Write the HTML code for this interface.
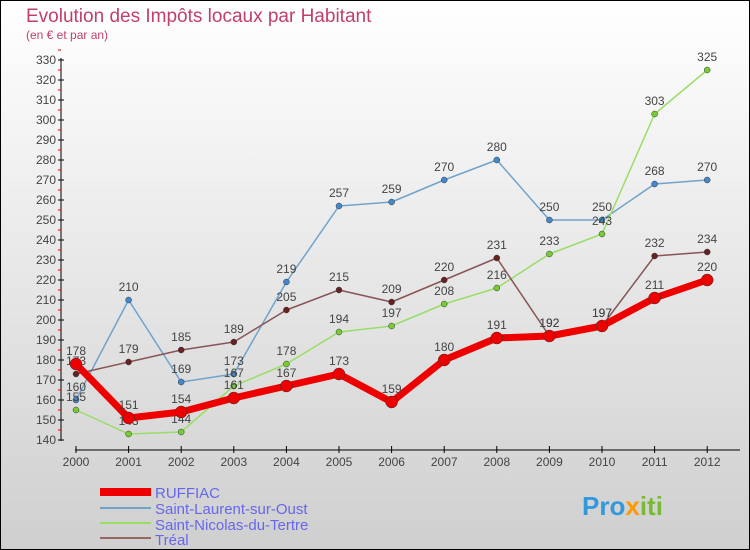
<!DOCTYPE html>
<html><head><meta charset="utf-8"><style>
body{margin:0}
#c{width:750px;height:550px;position:relative;overflow:hidden;font-family:"Liberation Sans","DejaVu Sans",sans-serif}
</style></head><body>
<div id="c">
<svg id="s" width="750" height="550" xmlns="http://www.w3.org/2000/svg">
<defs><linearGradient id="bg" x1="0" y1="0" x2="0" y2="1"><stop offset="0" stop-color="#ffffff"/><stop offset="1" stop-color="#cfcfcf"/></linearGradient></defs>
<rect x="0.5" y="0.5" width="749" height="549" fill="url(#bg)" stroke="#000"/>
<text x="26" y="22" font-size="19" fill="#c0406a">Evolution des Impôts locaux par Habitant</text>
<text x="26" y="39" font-size="12" fill="#c0406a">(en € et par an)</text>
<g id="axes"></g><g id="series"></g>
<g>
<rect x="100" y="488" width="51" height="8" fill="#e00"/>
<text x="155" y="498" font-size="15" fill="#6666ee">RUFFIAC</text>
<line x1="100" y1="508" x2="151" y2="508" stroke="#6fa3cc" stroke-width="2"/>
<text x="155" y="514" font-size="15" fill="#6666ee">Saint-Laurent-sur-Oust</text>
<line x1="100" y1="523" x2="151" y2="523" stroke="#99dd66" stroke-width="2"/>
<text x="155" y="530" font-size="15" fill="#6666ee">Saint-Nicolas-du-Tertre</text>
<line x1="100" y1="538" x2="151" y2="538" stroke="#996666" stroke-width="2"/>
<text x="155" y="545" font-size="15" fill="#6666ee">Tréal</text>
</g>
<text x="582" y="515" font-size="26" font-weight="bold" fill="#3399dd">Pro<tspan fill="#ff9900">x</tspan><tspan fill="#77bb33">iti</tspan></text>
</svg>
</div>
<script>
const years=[2000,2001,2002,2003,2004,2005,2006,2007,2008,2009,2010,2011,2012];
const yTicks=[140,150,160,170,180,190,200,210,220,230,240,250,260,270,280,290,300,310,320,330];
const ruffiac=[178,151,154,161,167,173,159,180,191,192,197,211,220];
const laurent=[160,210,169,173,219,257,259,270,280,250,250,268,270];
const nicolas=[155,143,144,167,178,194,197,208,216,233,243,303,325];
const treal=[173,179,185,189,205,215,209,220,231,192,197,232,234];
const NS="http://www.w3.org/2000/svg";
function X(i){return 76+i*52.6;}
function Y(v){return 440-(v-140)*2;}
function mk(t,a,p){const e=document.createElementNS(NS,t);for(const k in a)e.setAttribute(k,a[k]);p.appendChild(e);return e;}
const ax=document.getElementById('axes');
let yl=mk('line',{x1:61,y1:58,x2:61,y2:441,stroke:'#000'},ax);


yTicks.forEach(v=>{
 mk('line',{x1:58,y1:Y(v),x2:64,y2:Y(v),stroke:'#000'},ax);
 mk('line',{x1:58,y1:Y(v)-10,x2:61,y2:Y(v)-10,stroke:'#e00'},ax);
 const t=mk('text',{x:56,y:Y(v)+4,'font-size':12,fill:'#444','text-anchor':'end'},ax);t.textContent=v;
 
 
});
let xl=mk('line',{x1:75,y1:450,x2:740,y2:450,stroke:'#000'},ax);


years.forEach((y,i)=>{
 mk('line',{x1:X(i),y1:446,x2:X(i),y2:453,stroke:'#000'},ax);
 const t=mk('text',{x:X(i),y:466,'font-size':12,fill:'#444','text-anchor':'middle'},ax);t.textContent=y;
 
 
});
const sg=document.getElementById('series');
function series(d,color,dot,w,r,name){
 const g=mk('g',{},sg);
 
 
 mk('polyline',{points:d.map((v,i)=>X(i)+','+Y(v)).join(' '),fill:'none',stroke:color,'stroke-width':w,'stroke-linejoin':'round'},g);
 d.forEach((v,i)=>{
  const c=mk('circle',{cx:X(i),cy:Y(v),r:r,fill:dot,stroke:'#333','stroke-width':0.5},g);
  
  
  const t=mk('text',{x:X(i),y:Y(v)-9,'font-size':12,fill:'#444','text-anchor':'middle'},g);t.textContent=v;
  
  
 });
}
series(laurent,'#6fa3cc','#4488cc',1.5,3,'saint-laurent-series');
series(nicolas,'#99dd66','#77cc33',1.5,3,'saint-nicolas-series');
series(treal,'#885555','#662222',1.5,3,'treal-series');
series(ruffiac,'#ee0000','#ee0000',7,6,'ruffiac-series');
</script>
</body></html>
